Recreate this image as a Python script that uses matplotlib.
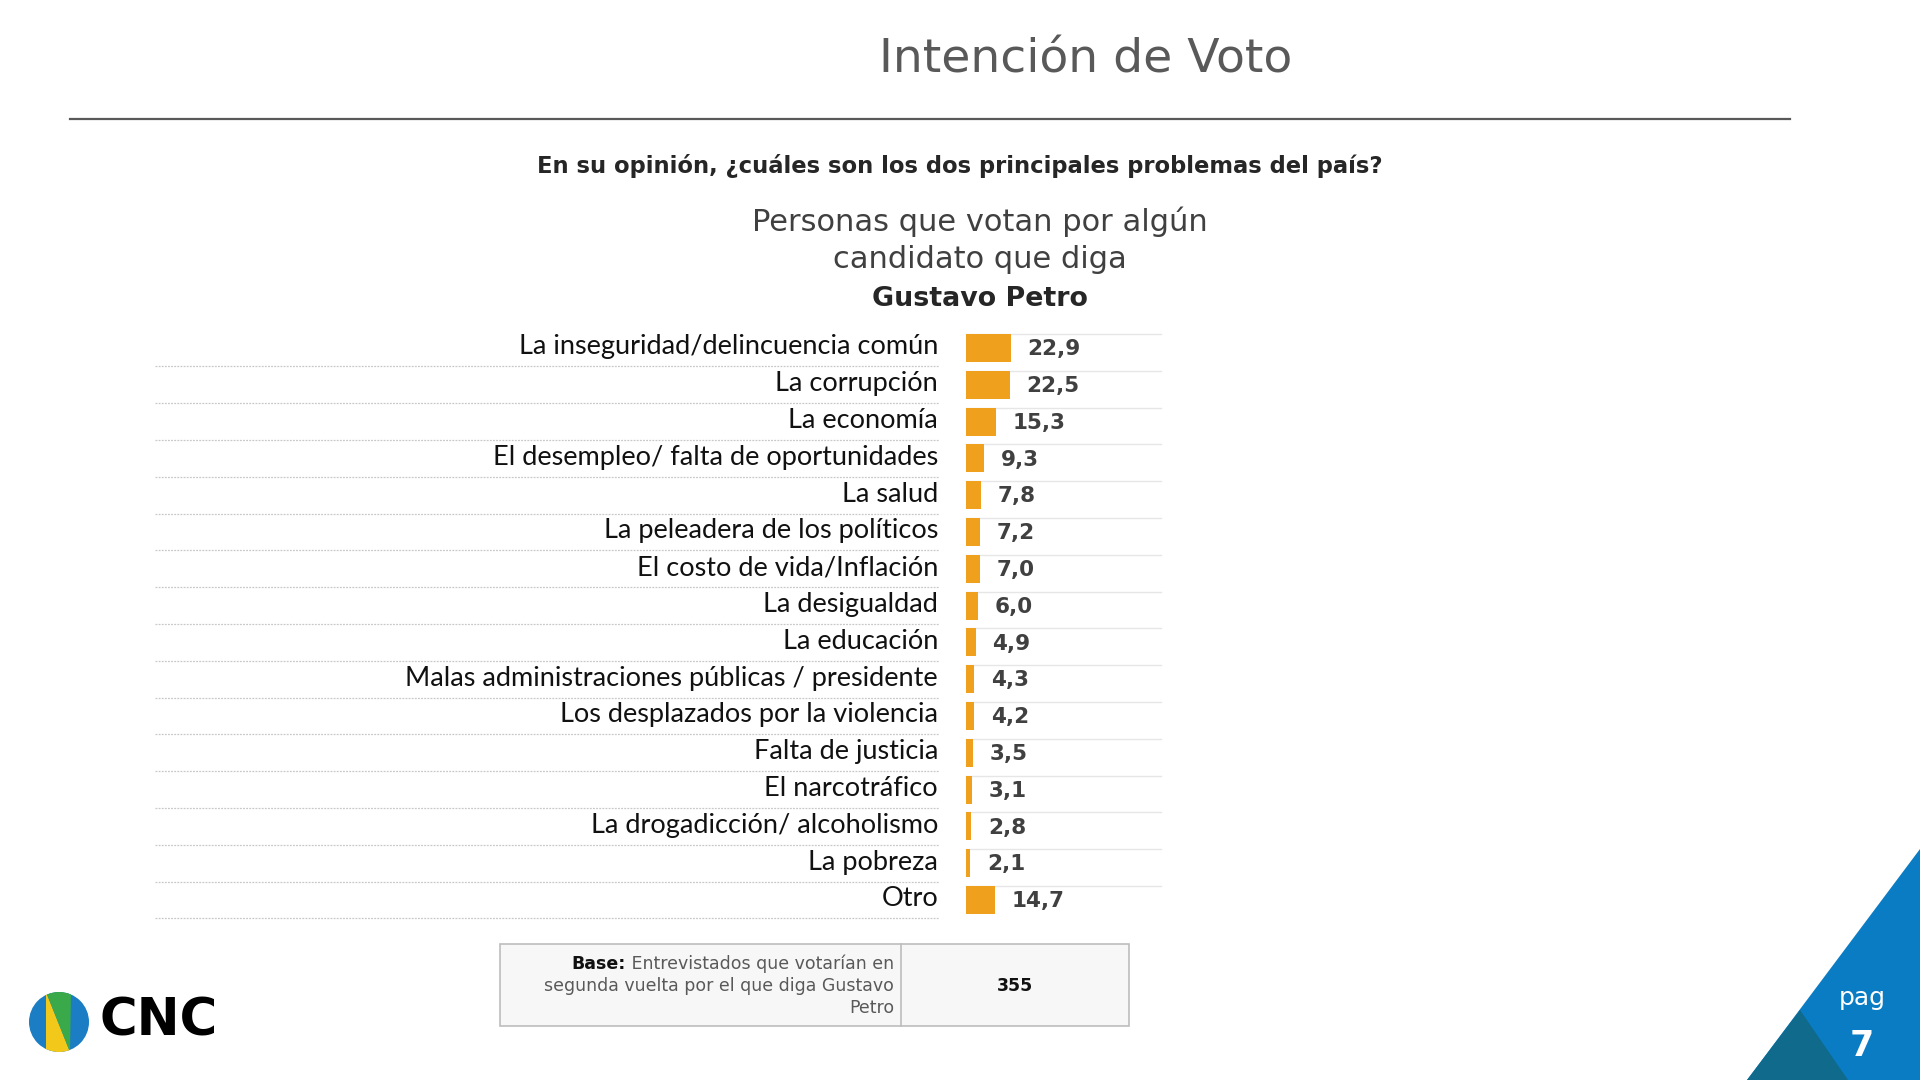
"""Problemas del país - votantes de Gustavo Petro (CNC, pag 7)."""

import matplotlib
matplotlib.use("Agg")
import matplotlib.pyplot as plt
import matplotlib.transforms as mtransforms
from matplotlib.patches import Rectangle, Polygon, Circle

plt.rcParams["font.family"] = ["DejaVu Sans"]

categories = [
    "La inseguridad/delincuencia común",
    "La corrupción",
    "La economía",
    "El desempleo/ falta de oportunidades",
    "La salud",
    "La peleadera de los políticos",
    "El costo de vida/Inflación",
    "La desigualdad",
    "La educación",
    "Malas administraciones públicas / presidente",
    "Los desplazados por la violencia",
    "Falta de justicia",
    "El narcotráfico",
    "La drogadicción/ alcoholismo",
    "La pobreza",
    "Otro",
]
values = [22.9, 22.5, 15.3, 9.3, 7.8, 7.2, 7.0, 6.0, 4.9, 4.3, 4.2, 3.5, 3.1, 2.8, 2.1, 14.7]
base_n = 355

W, H = 1920, 1080
BAR_COLOR = "#EFA11E"
TEXT_DARK = "#404040"
LABEL_FONT = ["Lato", "DejaVu Sans"]


def fx(px):
    return px / W


def fy(py):
    return 1 - py / H


fig = plt.figure(figsize=(19.2, 10.8), dpi=100)
fig.patch.set_facecolor("white")

# header
fig.text(fx(1086), fy(60), "Intención de Voto", ha="center", va="center",
         fontsize=34, color="#595959")
fig.add_artist(plt.Line2D([fx(70), fx(1790)], [fy(119), fy(119)],
                          color="#595959", lw=1.6))
fig.text(fx(960), fy(166), "En su opinión, ¿cuáles son los dos principales problemas del país?",
         ha="center", va="center", fontsize=16.3, fontweight="bold", color="#262626")
fig.text(fx(980), fy(222), "Personas que votan por algún", ha="center", va="center",
         fontsize=22, color=TEXT_DARK)
fig.text(fx(980), fy(260), "candidato que diga", ha="center", va="center",
         fontsize=22, color=TEXT_DARK)
fig.text(fx(980), fy(299), "Gustavo Petro", ha="center", va="center",
         fontsize=19.4, color="#262626", fontweight="bold")

# bar chart
row0, row_last = 348, 900
step = (row_last - row0) / (len(values) - 1)
top_px = row0 - step / 2
bot_px = row_last + step / 2
ax_left, ax_right = 966, 1161
ax = fig.add_axes([fx(ax_left), fy(bot_px), fx(ax_right - ax_left), (bot_px - top_px) / H])
ax.set_xlim(0, 100)
ax.set_ylim(len(values) - 0.5, -0.5)
ax.axis("off")

pos = list(range(len(values)))
ax.barh(pos, values, height=0.76, color=BAR_COLOR, zorder=2)

trans = mtransforms.blended_transform_factory(ax.transAxes, ax.transData)
lab_x = (938 - ax_left) / (ax_right - ax_left)
line_x0 = (155 - ax_left) / (ax_right - ax_left)
line_x1 = (939 - ax_left) / (ax_right - ax_left)
for i, (cat, v) in enumerate(zip(categories, values)):
    ax.text(lab_x, i - 0.03, cat, transform=trans, ha="right", va="center",
            fontsize=19.5, color="#111111", family=LABEL_FONT)
    ax.plot([line_x0, line_x1], [i + 0.5, i + 0.5], transform=trans, clip_on=False,
            color="#C8C8C8", lw=0.9, ls=(0, (1.5, 1.0)))
    ax.plot([0, 1], [i - 0.38, i - 0.38], transform=trans, clip_on=False,
            color="#E6E6E6", lw=1.0, zorder=1)
    ax.annotate(f"{v:.1f}".replace(".", ","), (v, i + 0.03), xytext=(12, 0),
                textcoords="offset points", ha="left", va="center",
                fontsize=15.5, fontweight="bold", color=TEXT_DARK)

# base table
tb_l, tb_div, tb_r, tb_t, tb_b = 500, 901, 1129, 944, 1026
fig.add_artist(Rectangle((fx(tb_l), fy(tb_b)), fx(tb_r - tb_l), (tb_b - tb_t) / H,
                         transform=fig.transFigure, facecolor="#F7F7F7",
                         edgecolor="#BDBDBD", lw=1.2))
fig.add_artist(plt.Line2D([fx(tb_div), fx(tb_div)], [fy(tb_t), fy(tb_b)],
                          color="#BDBDBD", lw=1.2))
renderer = fig.canvas.get_renderer()
t1 = fig.text(fx(894), fy(964), " Entrevistados que votarían en", ha="right", va="center",
              fontsize=12.5, color="#595959")
w1 = t1.get_window_extent(renderer).width
fig.text(fx(894 - w1), fy(964), "Base:", ha="right", va="center",
         fontsize=12.5, color="#111111", fontweight="bold")
fig.text(fx(894), fy(986), "segunda vuelta por el que diga Gustavo", ha="right", va="center",
         fontsize=12.5, color="#595959")
fig.text(fx(894), fy(1008), "Petro", ha="right", va="center",
         fontsize=12.5, color="#595959")
fig.text(fx((tb_div + tb_r) / 2), fy(986), str(base_n), ha="center", va="center",
         fontsize=12.5, fontweight="bold", color="#111111")

# corner triangle
fig.add_artist(Polygon([(fx(1920), fy(849)), (fx(1747), fy(1080)), (fx(1920), fy(1080))],
                       closed=True, transform=fig.transFigure, facecolor="#0A7CC4",
                       edgecolor="none"))
fig.add_artist(Polygon([(fx(1800), fy(1010)), (fx(1747), fy(1080)), (fx(1848), fy(1080))],
                       closed=True, transform=fig.transFigure, facecolor="#0F6A8C",
                       edgecolor="none"))
fig.text(fx(1862), fy(998), "pag", ha="center", va="center", fontsize=18,
         color="white")
fig.text(fx(1862), fy(1046), "7", ha="center", va="center", fontsize=25,
         color="white", fontweight="bold")

# logo
lax = fig.add_axes([fx(29), fy(1052), fx(60), 60 / H])
lax.set_xlim(0, 60)
lax.set_ylim(60, 0)
lax.set_aspect("equal")
lax.axis("off")
circ = Circle((30, 30), 30, facecolor="#1B7DC4", edgecolor="none")
lax.add_patch(circ)
yel = Polygon([(17, 0), (41, 60), (17, 60)], facecolor="#F2C81A", edgecolor="none")
grn = Polygon([(17, 0), (42, 0), (41, 60)], facecolor="#3AA94A", edgecolor="none")
for p in (yel, grn):
    lax.add_patch(p)
    p.set_clip_path(circ)
fig.text(fx(99), fy(1022), "CNC", ha="left", va="center", fontsize=37,
         fontweight="bold", color="#000000")

fig.savefig("out.png", dpi=100, facecolor="white")
